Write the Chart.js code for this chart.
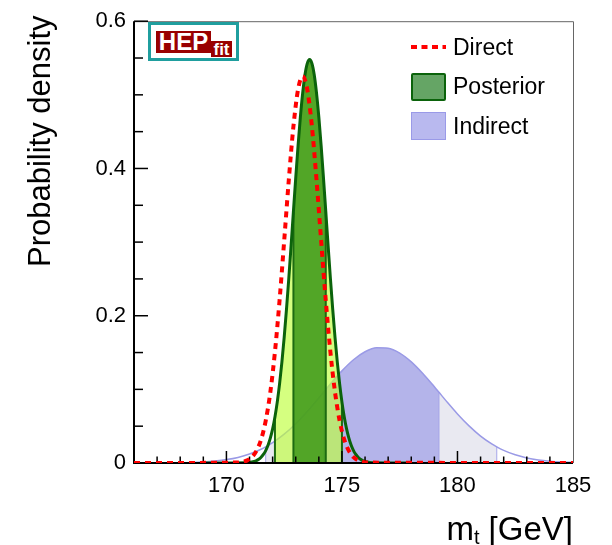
<!DOCTYPE html>
<html>
<head>
<meta charset="utf-8">
<script src="https://cdn.jsdelivr.net/npm/chart.js@4.4.1/dist/chart.umd.min.js"></script>
<style>
  body { margin: 0; background: #fff; }
  #wrap { position: relative; width: 612px; height: 545px; font-family: "Liberation Sans", Arial, sans-serif; color: #000; }
  .abs { position: absolute; white-space: nowrap; line-height: 1; }
  .box { position: absolute; box-sizing: border-box; }
  .red { position: absolute; background: #990000; color: #fff; font-weight: bold; display: flex; align-items: center; justify-content: center; line-height: 1; }
</style>
</head>
<body>
<div id="wrap">
  <canvas id="mtChart" width="612" height="545"></canvas>

  <div class="abs" style="left:24px;top:267px;font-size:31px;transform-origin:0 0;transform:rotate(-90deg)">Probability density</div>
  <div class="abs" style="right:39px;top:512px;font-size:33px">m<span style="font-size:20px;vertical-align:-4px">t</span> [GeV]</div>

  <!-- HEPfit logo -->
  <div class="box" style="left:148px;top:22px;width:91px;height:39px;border:3.5px solid #1f9e9e;background:#fff"></div>
  <div class="red" style="left:156px;top:31px;width:55px;height:22px;font-size:24px">HEP</div>
  <div class="red" style="left:211px;top:41px;width:21px;height:16px;font-size:17px">fit</div>

  <!-- legend -->
  <svg class="abs" style="left:411px;top:43px" width="36" height="8">
    <line x1="0" y1="4" x2="35" y2="4" stroke="#ff0000" stroke-width="4" stroke-dasharray="6 4.5"/>
  </svg>
  <div class="abs" style="left:453px;top:36px;font-size:23px">Direct</div>
  <div class="box" style="left:411px;top:73px;width:35px;height:28px;background:#65a565;border:2px solid #0b630b;border-radius:2px"></div>
  <div class="abs" style="left:453px;top:75px;font-size:23px">Posterior</div>
  <div class="box" style="left:411px;top:112px;width:35px;height:28px;background:#b9b9ef;border:1px solid #9a9ae8"></div>
  <div class="abs" style="left:453px;top:115px;font-size:23px">Indirect</div>
</div>

<script>
// m_t grid points and probability densities
const xDirect = [166, 170.5, 170.7, 170.9, 171.1, 171.3, 171.5, 171.7, 171.9, 172.1, 172.3, 172.5, 172.7, 172.9, 173.1,
  173.3, 173.5, 173.7, 173.9, 174.1, 174.3, 174.5, 174.7, 174.9, 175.1, 175.3, 175.5, 175.7, 175.9, 176.1, 185];
const direct = [0, 0.0006, 0.0015, 0.0036, 0.0080, 0.0165, 0.0318, 0.0573, 0.0962, 0.1509, 0.2209, 0.3017, 0.3844, 0.4571, 0.5071,
  0.525, 0.5071, 0.4571, 0.3844, 0.3017, 0.2209, 0.1509, 0.0962, 0.0573, 0.0318, 0.0165, 0.0080, 0.0036, 0.0015, 0.0006, 0];

const xPosterior = [169, 170.8, 170.9, 171, 171.1, 171.2, 171.3, 171.4, 171.5, 171.6, 171.7, 171.8, 171.9, 172, 172.1, 172.2,
  172.3, 172.4, 172.5, 172.6, 172.7, 172.8, 172.9, 173, 173.1, 173.2, 173.3, 173.4, 173.5, 173.6, 173.7, 173.8, 173.9, 174,
  174.1, 174.2, 174.3, 174.4, 174.5, 174.6, 174.7, 174.8, 174.9, 175, 175.1, 175.2, 175.3, 175.4, 175.5, 175.6, 175.7, 175.8,
  175.9, 176, 176.1, 176.2, 176.3, 176.4, 178];
const posterior = [0, 0.0003, 0.0005, 0.0008, 0.0013, 0.0021, 0.0033, 0.0051, 0.0078, 0.0116, 0.0169, 0.0241, 0.0338, 0.0464,
  0.0626, 0.0827, 0.1074, 0.1367, 0.1706, 0.2089, 0.2509, 0.2956, 0.3416, 0.3872, 0.4306, 0.4696, 0.5024, 0.5273, 0.5427,
  0.548, 0.5427, 0.5273, 0.5024, 0.4696, 0.4306, 0.3872, 0.3416, 0.2956, 0.2509, 0.2089, 0.1706, 0.1367, 0.1074, 0.0827,
  0.0626, 0.0464, 0.0338, 0.0241, 0.0169, 0.0116, 0.0078, 0.0051, 0.0033, 0.0021, 0.0013, 0.0008, 0.0005, 0.0003, 0];

const xIndirect = [166, 166.5, 167, 167.5, 168, 168.5, 169, 169.5, 170, 170.5, 171, 171.5, 171.7, 172, 172.5, 173, 173.5, 174,
  174.2, 174.5, 175, 175.5, 176, 176.5, 177, 177.5, 178, 178.5, 179, 179.2, 179.5, 180, 180.5, 181, 181.5, 181.7, 182, 182.5,
  183, 183.5, 184, 184.5, 185];
const indirect = [0, 0, 0.0001, 0.0002, 0.0004, 0.0008, 0.0015, 0.0027, 0.0046, 0.0076, 0.0122, 0.0187, 0.0219, 0.0276,
  0.0392, 0.0534, 0.0701, 0.0884, 0.0960, 0.1073, 0.1251, 0.1402, 0.1511, 0.1565, 0.1559, 0.1493, 0.1374, 0.1216, 0.1035,
  0.0960, 0.0847, 0.0666, 0.0504, 0.0366, 0.0256, 0.0219, 0.0172, 0.0111, 0.0069, 0.0041, 0.0024, 0.0013, 0.0007];

// 68% / 95% intervals
const posterior68 = [172.9, 174.3];
const posterior95 = [172.1, 175.0];
const indirect68 = [174.2, 179.2];
const indirect95 = [171.7, 181.7];

const pts = (xs, ys) => xs.map((x, i) => ({ x: x, y: ys[i] }));
const within = (p, lim) => p.filter(q => q.x >= lim[0] - 1e-6 && q.x <= lim[1] + 1e-6);

const postPts = pts(xPosterior, posterior);
const indPts = pts(xIndirect, indirect);
const font = { family: '"Liberation Sans", Arial, sans-serif', size: 22 };

// vertical lines closing each interval band
const bandEdges = {
  id: 'bandEdges',
  afterDatasetDraw(chart, args) {
    const ds = chart.data.datasets[args.index];
    if (!ds.edgeColor) return;
    const pts = args.meta.data;
    const y0 = chart.scales.y.getPixelForValue(0);
    const ctx = chart.ctx;
    ctx.save();
    ctx.strokeStyle = ds.edgeColor;
    ctx.lineWidth = ds.edgeWidth;
    [pts[0], pts[pts.length - 1]].forEach(p => {
      ctx.beginPath();
      ctx.moveTo(p.x, y0);
      ctx.lineTo(p.x, p.y);
      ctx.stroke();
    });
    ctx.restore();
  }
};

// ROOT style frame with inward ticks, drawn just under the Direct curve
const frame = {
  id: 'frame',
  beforeDatasetDraw(chart, args) {
    if (chart.data.datasets[args.index].label !== 'Direct') return;
    const { ctx, chartArea: a, scales: { x, y } } = chart;
    ctx.save();
    ctx.strokeStyle = '#666';
    ctx.lineWidth = 1;
    ctx.beginPath();
    ctx.moveTo(a.left, a.top + 0.5);
    ctx.lineTo(a.right + 0.5, a.top + 0.5);
    ctx.lineTo(a.right + 0.5, a.bottom);
    ctx.stroke();
    ctx.strokeStyle = '#000';
    ctx.lineWidth = 2;
    ctx.beginPath();
    ctx.moveTo(a.left, a.top);
    ctx.lineTo(a.left, a.bottom);
    ctx.lineTo(a.right, a.bottom);
    ctx.stroke();
    ctx.lineWidth = 1.5;
    for (let v = 167; v <= 184; v++) {
      const px = x.getPixelForValue(v);
      const len = v % 5 === 0 ? 12 : 6.5;
      ctx.beginPath();
      ctx.moveTo(px, a.bottom);
      ctx.lineTo(px, a.bottom - len);
      ctx.stroke();
    }
    for (let k = 1; k <= 12; k++) {
      const py = y.getPixelForValue(k * 0.05);
      const len = k % 4 === 0 ? 14 : 9;
      ctx.beginPath();
      ctx.moveTo(a.left, py);
      ctx.lineTo(a.left + len, py);
      ctx.stroke();
    }
    ctx.restore();
  }
};

new Chart(document.getElementById('mtChart'), {
  type: 'line',
  data: {
    datasets: [
      { label: 'Direct', data: pts(xDirect, direct), borderColor: '#ff0000', borderWidth: 4, borderDash: [6, 5], fill: false, order: 1 },
      { label: 'Posterior', data: postPts, borderColor: '#0b630b', borderWidth: 3, fill: false, order: 2 },
      { label: 'Posterior 68%', data: within(postPts, posterior68), borderWidth: 0, backgroundColor: 'rgba(60,150,25,0.85)',
        fill: 'origin', order: 3, edgeColor: '#1d6b12', edgeWidth: 2 },
      { label: 'Posterior 95%', data: within(postPts, posterior95), borderWidth: 0, backgroundColor: 'rgba(190,255,60,0.65)',
        fill: 'origin', order: 4, edgeColor: '#1d6b12', edgeWidth: 2 },
      { label: 'Indirect', data: indPts, borderColor: '#9a9ae6', borderWidth: 1.5, fill: false, order: 5 },
      { label: 'Indirect 68%', data: within(indPts, indirect68), borderWidth: 0, backgroundColor: '#b4b4ea',
        fill: 'origin', order: 6, edgeColor: '#a5a5e8', edgeWidth: 1 },
      { label: 'Indirect 95%', data: within(indPts, indirect95), borderWidth: 0, backgroundColor: '#e9e9f1',
        fill: 'origin', order: 7, edgeColor: '#a5a5e8', edgeWidth: 1 }
    ]
  },
  options: {
    responsive: false,
    animation: false,
    devicePixelRatio: 1,
    layout: { padding: { top: 15, right: 39, left: 0, bottom: 0 } },
    elements: { point: { radius: 0 }, line: { cubicInterpolationMode: 'monotone' } },
    plugins: { legend: { display: false }, tooltip: { enabled: false } },
    scales: {
      x: {
        type: 'linear', min: 166, max: 185,
        grid: { display: false, drawTicks: false },
        border: { display: false },
        ticks: { stepSize: 5, includeBounds: false, autoSkip: false, maxRotation: 0, padding: 10, color: '#000', font: font },
        afterFit: s => { s.height = 82; }
      },
      y: {
        min: 0, max: 0.6,
        grid: { display: false, drawTicks: false },
        border: { display: false },
        ticks: { stepSize: 0.2, padding: 8, color: '#000', font: font,
          callback: v => v === 0 ? '0' : v.toFixed(1) },
        afterFit: s => { s.width = 134; }
      }
    }
  },
  plugins: [bandEdges, frame]
});
</script>
</body>
</html>
